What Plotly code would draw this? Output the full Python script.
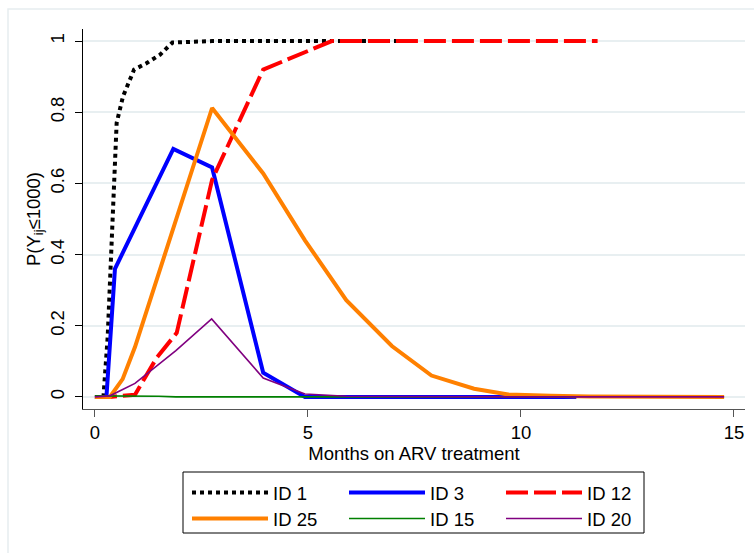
import plotly.graph_objects as go

# ---------------- data ----------------
id1_x = [0, 0.2, 0.3, 0.39, 0.45, 0.51, 0.66, 0.92, 1.2, 1.53, 1.82, 2.75, 3.95, 4.93, 5.9, 7.0, 7.4]
id1_y = [0, 0.0, 0.17, 0.42, 0.65, 0.77, 0.845, 0.92, 0.937, 0.962, 0.996, 1, 1, 1, 1, 1, 1]

id3_x = [0, 0.27, 0.47, 1.84, 2.75, 3.95, 4.93, 5.9, 7.0, 8.0, 9.0, 10.0, 11.3]
id3_y = [0, 0.0, 0.36, 0.697, 0.645, 0.068, 0.0, 0, 0, 0, 0, 0, 0]

id12_x = [0, 0.35, 0.94, 1.45, 1.92, 2.75, 3.95, 5.56, 7.0, 8.0, 9.0, 10.0, 11.8]
id12_y = [0, 0.0, 0.006, 0.11, 0.18, 0.61, 0.92, 1.0, 1, 1, 1, 1, 1]

id25_x = [0, 0.35, 0.65, 0.94, 2.75, 3.95, 4.93, 5.9, 6.97, 7.9, 8.9, 9.7, 10.7, 11.6, 14.77]
id25_y = [0, 0.0, 0.05, 0.14, 0.812, 0.628, 0.44, 0.272, 0.143, 0.06, 0.023, 0.007, 0.003, 0.001, 0.0]

id15_x = [0, 0.35, 0.94, 1.5, 1.9, 2.75, 3.95, 4.93, 5.9, 7.0, 8.0, 9.0, 10.0, 11.3]
id15_y = [0.003, 0.003, 0.003, 0.002, 0.0, 0, 0, 0, 0, 0, 0, 0, 0, 0]

id20_x = [0, 0.35, 0.94, 1.9, 2.74, 3.95, 4.93, 5.9, 7.0, 8.0, 9.0, 10.0, 11.3, 14.77]
id20_y = [0, 0.003, 0.038, 0.13, 0.219, 0.053, 0.008, 0.002, 0.001, 0, 0, 0, 0, 0]

series_names = ["ID 1", "ID 3", "ID 12", "ID 25", "ID 15", "ID 20"]

x_ticks = [0, 5, 10, 15]
y_ticks = [0, 0.2, 0.4, 0.6, 0.8, 1]
y_ticktext = ["0", "0.2", "0.4", "0.6", "0.8", "1"]

x_title = "Months on ARV treatment"
y_title = "P(Y<sub>ij</sub>≤1000)"

# ---------------- figure ----------------
FONT = "Liberation Sans, Arial, sans-serif"
FS = 18.5

styles = [
    dict(color="black", width=4, dash="dot"),
    dict(color="#0000ff", width=4, dash="solid"),
    dict(color="#ff0000", width=4, dash="22px,6px"),
    dict(color="#ff8000", width=4, dash="solid"),
    dict(color="#008000", width=1.6, dash="solid"),
    dict(color="#800080", width=1.6, dash="solid"),
]
xs = [id1_x, id3_x, id12_x, id25_x, id15_x, id20_x]
ys = [id1_y, id3_y, id12_y, id25_y, id15_y, id20_y]
legends = ["legend", "legend", "legend", "legend2", "legend2", "legend2"]

fig = go.Figure()
for name, x, y, st, lg in zip(series_names, xs, ys, styles, legends):
    fig.add_trace(go.Scatter(x=x, y=y, mode="lines", name=name, line=st,
                             legend=lg, legendwidth=66))

W, H = 754, 553
ml, mr, mt, mb = 83, 9, 29, 144
pw, ph = W - ml - mr, H - mt - mb


def px2paper_x(px):
    return (px - ml) / pw


def px2paper_y(py):
    return (H - mb - py) / ph


legend_common = dict(orientation="h", xanchor="left", yanchor="top",
                     borderwidth=0, bgcolor="rgba(0,0,0,0)",
                     font=dict(family=FONT, size=FS, color="black"),
                     itemwidth=76, tracegroupgap=0)

fig.update_layout(
    width=W, height=H,
    margin=dict(l=ml, r=mr, t=mt, b=mb, autoexpand=False),
    paper_bgcolor="white", plot_bgcolor="white",
    font=dict(family=FONT, size=FS, color="black"),
    legend=dict(x=px2paper_x(187), y=px2paper_y(474), **legend_common),
    legend2=dict(x=px2paper_x(187), y=px2paper_y(500), **legend_common),
    xaxis=dict(range=[-0.28, 15.26], tickvals=x_ticks, ticks="outside", ticklen=7,
               tickcolor="#555", showline=True, linecolor="#555", linewidth=1.2,
               showgrid=False, zeroline=False,
               tickfont=dict(size=FS, color="black"),
               title=dict(text=x_title, standoff=1, font=dict(size=FS))),
    yaxis=dict(range=[-0.034, 1.034], tickvals=y_ticks, ticktext=y_ticktext,
               tickangle=-90, ticks="outside", ticklen=7, tickcolor="black",
               ticklabelstandoff=4,
               showline=True, linecolor="black", linewidth=1.2,
               showgrid=True, gridcolor="#e8eff1", gridwidth=1.5, zeroline=False,
               tickfont=dict(size=FS, color="black"),
               title=dict(text=y_title, standoff=0, font=dict(size=FS))),
    shapes=[
        # outer light graph-region frame (left/top edges visible)
        dict(type="rect", xref="paper", yref="paper",
             x0=px2paper_x(8), x1=px2paper_x(900), y0=px2paper_y(900), y1=px2paper_y(9),
             line=dict(color="#e6edf0", width=1.5), fillcolor="rgba(0,0,0,0)", layer="below"),
        # legend box
        dict(type="rect", xref="paper", yref="paper",
             x0=px2paper_x(183), x1=px2paper_x(644), y0=px2paper_y(533), y1=px2paper_y(472),
             line=dict(color="black", width=1), fillcolor="rgba(0,0,0,0)"),
    ],
)

fig.write_html("out.html")
